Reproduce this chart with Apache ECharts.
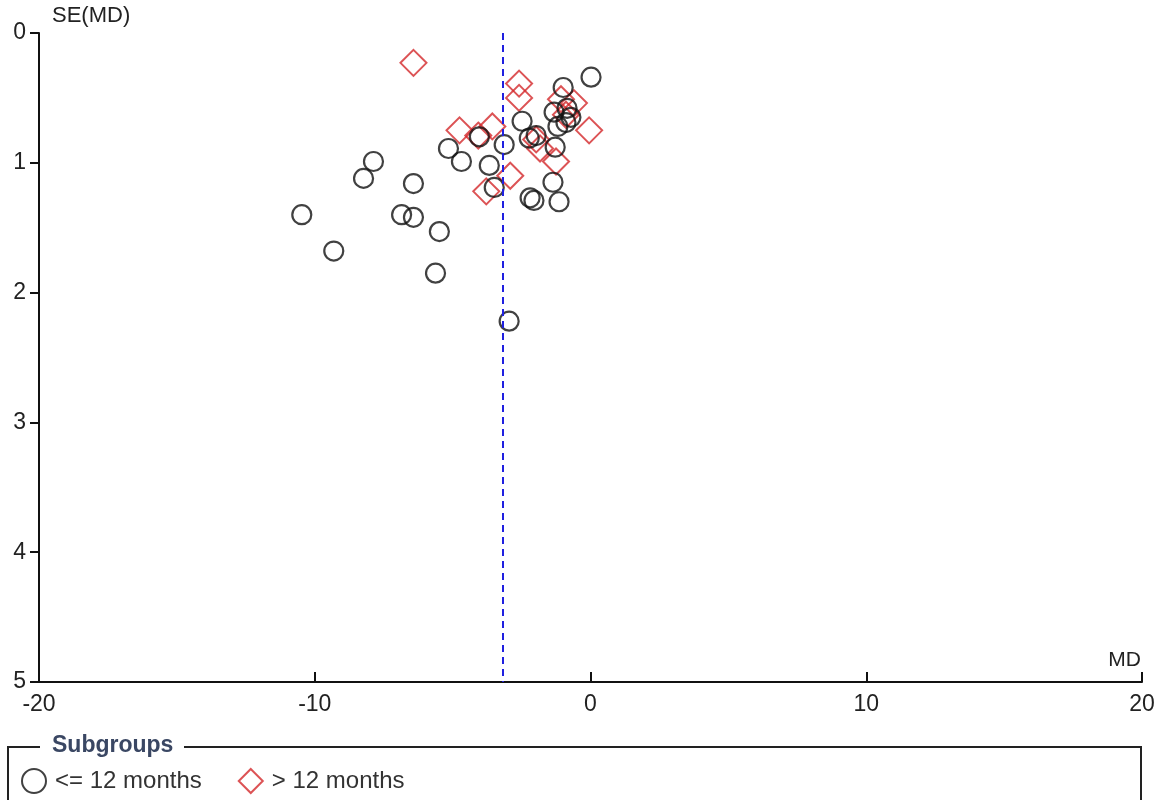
<!DOCTYPE html>
<html>
<head>
<meta charset="utf-8">
<script src="https://cdn.jsdelivr.net/npm/echarts@6/dist/echarts.min.js"></script>
<style>
html,body{margin:0;padding:0;background:#fff;}
#chart{width:1161px;height:800px;}
</style>
</head>
<body>
<div id="chart"></div>
<script>
// Subgroup "<= 12 months" (circles)
const shortMD = [0.02, -0.99, -1.32, -0.85, -0.71, -0.89, -1.18, -2.48, -2.22, -1.97, -1.28, -3.13, -4.03, -5.15, -4.68, -7.87, -3.67, -8.23, -6.42, -3.49, -1.36, -2.19, -2.05, -1.14, -10.47, -6.85, -6.42, -5.48, -9.31, -5.62, -2.95];
const shortSE = [0.34, 0.42, 0.61, 0.58, 0.65, 0.69, 0.72, 0.68, 0.81, 0.79, 0.88, 0.86, 0.80, 0.89, 0.99, 0.99, 1.02, 1.12, 1.16, 1.19, 1.15, 1.27, 1.29, 1.30, 1.40, 1.40, 1.42, 1.53, 1.68, 1.85, 2.22];
// Subgroup "> 12 months" (diamonds)
const longMD = [-6.42, -2.59, -2.59, -4.75, -4.07, -3.56, -1.07, -0.60, -0.89, -0.05, -1.97, -1.83, -1.25, -2.91, -3.78];
const longSE = [0.23, 0.39, 0.50, 0.75, 0.79, 0.72, 0.51, 0.54, 0.63, 0.75, 0.82, 0.89, 0.99, 1.10, 1.22];
// Overall pooled MD (vertical dashed line)
const pooledMD = -3.17;
const seriesNames = ['<= 12 months', '> 12 months'];
const xTicks = {min: -20, max: 20, interval: 10};
const yTicks = {min: 0, max: 5, interval: 1};

const shortData = shortMD.map((v, i) => [v, shortSE[i]]);
const longData = longMD.map((v, i) => [v, longSE[i]]);

const font = 'Liberation Sans, Arial, sans-serif';
const chart = echarts.init(document.getElementById('chart'));
chart.setOption({
  backgroundColor: '#ffffff',
  animation: false,
  grid: {left: 39, right: 19, top: 33, bottom: 118, containLabel: false, outerBoundsMode: 'none'},
  xAxis: {
    type: 'value', position: 'bottom', min: xTicks.min, max: xTicks.max, interval: xTicks.interval,
    axisLine: {show: true, onZero: false, lineStyle: {color: '#111', width: 2}},
    axisTick: {show: true, inside: true, length: 10, lineStyle: {color: '#111', width: 2}},
    axisLabel: {color: '#222', fontFamily: font, fontSize: 23, margin: 11},
    splitLine: {show: false}
  },
  yAxis: {
    type: 'value', position: 'left', inverse: true, min: yTicks.min, max: yTicks.max, interval: yTicks.interval,
    axisLine: {show: true, onZero: false, lineStyle: {color: '#111', width: 2}},
    axisTick: {show: true, inside: false, length: 9, lineStyle: {color: '#111', width: 2}},
    axisLabel: {color: '#222', fontFamily: font, fontSize: 23, margin: 13, padding: [5, 0, 0, 0]},
    splitLine: {show: false}
  },
  legend: {
    data: seriesNames,
    left: 16, top: 763,
    itemWidth: 24, itemHeight: 24, itemGap: 36,
    textStyle: {color: '#333', fontFamily: font, fontSize: 24, padding: [0, 0, 0, 4]}
  },
  graphic: [
    {type: 'polyline', silent: true, shape: {points: [[40, 747], [8, 747], [8, 800]]}, style: {stroke: '#222', lineWidth: 2, fill: null}},
    {type: 'polyline', silent: true, shape: {points: [[184, 747], [1141, 747], [1141, 800]]}, style: {stroke: '#222', lineWidth: 2, fill: null}},
    {type: 'text', silent: true, left: 52, top: 734, style: {text: 'Subgroups', fill: '#3a4763', font: 'bold 23px Liberation Sans, Arial, sans-serif'}},
    {type: 'text', silent: true, left: 52, top: 5, style: {text: 'SE(MD)', fill: '#222', font: '22px Liberation Sans, Arial, sans-serif'}},
    {type: 'text', silent: true, right: 20, top: 650, style: {text: 'MD', fill: '#222', font: '21px Liberation Sans, Arial, sans-serif'}}
  ],
  series: [
    {
      name: seriesNames[1], type: 'scatter', data: longData, z: 2,
      symbol: 'diamond', symbolSize: [26, 26],
      itemStyle: {color: 'rgba(255,255,255,0)', borderColor: '#d3282b', borderWidth: 2}
    },
    {
      name: seriesNames[0], type: 'scatter', data: shortData, z: 3,
      symbol: 'circle', symbolSize: 19,
      itemStyle: {color: 'rgba(255,255,255,0)', borderColor: '#111', borderWidth: 2.2}
    },
    {
      name: 'pooled', type: 'scatter', data: [], z: 5,
      markLine: {
        silent: true, symbol: ['none', 'none'], label: {show: false},
        lineStyle: {color: '#2020e0', type: [7, 5], width: 2},
        data: [{xAxis: pooledMD}]
      }
    }
  ]
});
</script>
</body>
</html>
